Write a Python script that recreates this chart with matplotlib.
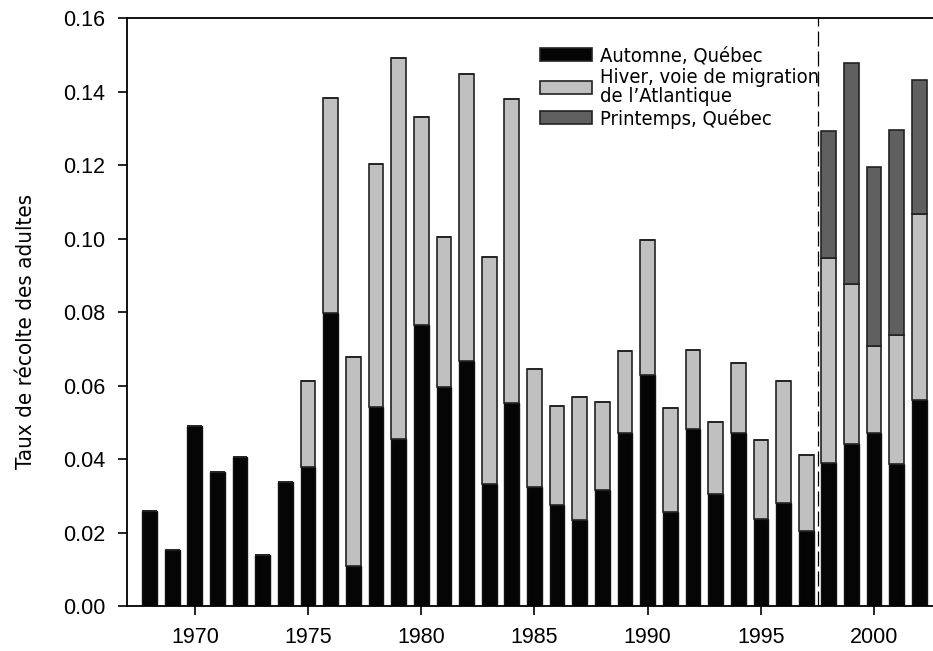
import numpy as np
import matplotlib.pyplot as plt
from matplotlib.patches import Patch
from matplotlib import font_manager

# harvest rates of adults
years = list(range(1968, 2003))

automne = [0.026, 0.0153, 0.0491, 0.0366, 0.0407, 0.014, 0.0338, 0.0379, 0.0798, 0.011,
           0.0543, 0.0456, 0.0764, 0.0595, 0.0666, 0.0331, 0.0554, 0.0325, 0.0275, 0.0233,
           0.0315, 0.047, 0.0629, 0.0256, 0.0481, 0.0304, 0.0471, 0.0237, 0.028, 0.0203,
           0.039, 0.044, 0.0471, 0.0388, 0.0562]

hiver = [0, 0, 0, 0, 0, 0, 0, 0.0233, 0.0585, 0.0569,
         0.0661, 0.1036, 0.0566, 0.0409, 0.0783, 0.0619, 0.0827, 0.0319, 0.0269, 0.0335,
         0.0241, 0.0224, 0.0367, 0.0283, 0.0217, 0.0197, 0.0191, 0.0216, 0.0332, 0.0209,
         0.0557, 0.0436, 0.0236, 0.0349, 0.0505]

printemps = [0] * 30 + [0.0346, 0.0602, 0.0487, 0.056, 0.0365]

labels = ['Automne, Québec',
          'Hiver, voie de migration\nde l\u2019Atlantique',
          'Printemps, Québec']
colors = ['#050505', '#c0c0c0', '#606060']

yticks = [0.00, 0.02, 0.04, 0.06, 0.08, 0.10, 0.12, 0.14, 0.16]
xticks = [1970, 1975, 1980, 1985, 1990, 1995, 2000]


# the original uses a condensed face, take the narrowest one we have
def pick_narrow():
    for fam, stretch in [('Liberation Sans Narrow', 'normal'),
                         ('DejaVu Sans', 'condensed'),
                         ('Roboto', 'normal')]:
        fp = font_manager.FontProperties(family=fam, stretch=stretch)
        try:
            path = font_manager.findfont(fp, fallback_to_default=False)
        except ValueError:
            continue
        if fam == 'DejaVu Sans' and 'Condensed' not in path:
            continue
        return fam, stretch
    return 'DejaVu Sans', 'normal'


narrow_fam, narrow_stretch = pick_narrow()
scale = 1.1 if narrow_fam == 'Liberation Sans Narrow' else 1.0

fig = plt.figure(figsize=(9.33, 6.51), dpi=100)
ax = fig.add_axes([0.136, 0.069, 0.864, 0.903])

x = np.array(years)
automne = np.array(automne)
hiver = np.array(hiver)
printemps = np.array(printemps)

w = 0.65
ax.bar(x, automne, w, color=colors[0], edgecolor='#111111', linewidth=1)
ax.bar(x, hiver, w, bottom=automne, color=colors[1], edgecolor='#222222', linewidth=1.2)
ax.bar(x, printemps, w, bottom=automne + hiver, color=colors[2], edgecolor='#222222', linewidth=1.2)

# separation between the two periods
ax.axvline(1997.5, color='black', linewidth=0.9, linestyle=(0, (12, 4)))

ax.set_xlim(1967, 2002.6)
ax.set_ylim(0, 0.16)
ax.set_xticks(xticks)
ax.set_yticks(yticks)
ax.set_yticklabels(['%.2f' % v for v in yticks])
ax.tick_params(direction='out', length=6.5, width=1.2, labelsize=15.5)
ax.tick_params(axis='x', pad=8.5)
ax.tick_params(axis='y', pad=9)
for lab in ax.get_xticklabels() + ax.get_yticklabels():
    lab.set_family('Liberation Sans')

ax.spines['right'].set_visible(False)
for s in ['left', 'bottom', 'top']:
    ax.spines[s].set_linewidth(1.3)

ax.set_ylabel('Taux de récolte des adultes', fontsize=16 * scale,
              family=narrow_fam, stretch=narrow_stretch)
ax.yaxis.set_label_coords(-0.113, 0.468)

handles = [Patch(facecolor=c, edgecolor='#222222', linewidth=1.2) for c in colors]
leg = ax.legend(handles, labels, loc='upper left', bbox_to_anchor=(0.5124, 0.952), frameon=False,
                prop={'family': narrow_fam, 'stretch': narrow_stretch, 'size': 14.5 * scale},
                handlelength=2.6, handleheight=0.6, handletextpad=0.36,
                labelspacing=0.12, borderaxespad=0, borderpad=0)
for t in leg.get_texts():
    t.set_linespacing(1.02)

plt.savefig('out.png', dpi=100)
